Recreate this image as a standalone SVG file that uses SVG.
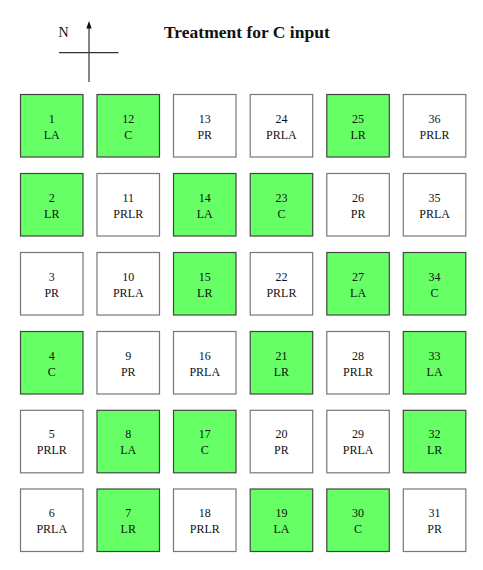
<svg xmlns="http://www.w3.org/2000/svg" width="483" height="570" viewBox="0 0 483 570">
<style>
.c rect{stroke-width:1.2}
.g rect{fill:#66ff66;stroke:#444}
.w rect{fill:#fff;stroke:#777}
text{font-family:"Liberation Serif","Times New Roman",serif;font-size:12px;fill:#111;text-anchor:middle}
.t{font-size:17.5px;font-weight:bold;text-anchor:start}
.n{font-size:14px;text-anchor:start}
.l{stroke:#333;stroke-width:1.2;fill:none}
</style>
<g id="connectors">
<line class="l" x1="89" y1="82" x2="89" y2="27"/>
<path d="M89,21 L86.3,28.5 L91.7,28.5 Z" fill="#111"/>
<line class="l" x1="59" y1="52.7" x2="118.5" y2="52.7"/>
</g>
<text class="n" x="58.5" y="37">N</text>
<text class="t" x="164" y="37.5">Treatment for C input</text>
<g id="p1" class="c g" transform="translate(20.5,94.5)"><rect width="62.5" height="62.5"/><text x="31.25" y="28">1</text><text x="31.25" y="44">LA</text></g>
<g id="p12" class="c g" transform="translate(97,94.5)"><rect width="62.5" height="62.5"/><text x="31.25" y="28">12</text><text x="31.25" y="44">C</text></g>
<g id="p13" class="c w" transform="translate(173.5,94.5)"><rect width="62.5" height="62.5"/><text x="31.25" y="28">13</text><text x="31.25" y="44">PR</text></g>
<g id="p24" class="c w" transform="translate(250.2,94.5)"><rect width="62.5" height="62.5"/><text x="31.25" y="28">24</text><text x="31.25" y="44">PRLA</text></g>
<g id="p25" class="c g" transform="translate(326.8,94.5)"><rect width="62.5" height="62.5"/><text x="31.25" y="28">25</text><text x="31.25" y="44">LR</text></g>
<g id="p36" class="c w" transform="translate(403.3,94.5)"><rect width="62.5" height="62.5"/><text x="31.25" y="28">36</text><text x="31.25" y="44">PRLR</text></g>

<g id="p2" class="c g" transform="translate(20.5,173.5)"><rect width="62.5" height="62.5"/><text x="31.25" y="28">2</text><text x="31.25" y="44">LR</text></g>
<g id="p11" class="c w" transform="translate(97,173.5)"><rect width="62.5" height="62.5"/><text x="31.25" y="28">11</text><text x="31.25" y="44">PRLR</text></g>
<g id="p14" class="c g" transform="translate(173.5,173.5)"><rect width="62.5" height="62.5"/><text x="31.25" y="28">14</text><text x="31.25" y="44">LA</text></g>
<g id="p23" class="c g" transform="translate(250.2,173.5)"><rect width="62.5" height="62.5"/><text x="31.25" y="28">23</text><text x="31.25" y="44">C</text></g>
<g id="p26" class="c w" transform="translate(326.8,173.5)"><rect width="62.5" height="62.5"/><text x="31.25" y="28">26</text><text x="31.25" y="44">PR</text></g>
<g id="p35" class="c w" transform="translate(403.3,173.5)"><rect width="62.5" height="62.5"/><text x="31.25" y="28">35</text><text x="31.25" y="44">PRLA</text></g>

<g id="p3" class="c w" transform="translate(20.5,252.5)"><rect width="62.5" height="62.5"/><text x="31.25" y="28">3</text><text x="31.25" y="44">PR</text></g>
<g id="p10" class="c w" transform="translate(97,252.5)"><rect width="62.5" height="62.5"/><text x="31.25" y="28">10</text><text x="31.25" y="44">PRLA</text></g>
<g id="p15" class="c g" transform="translate(173.5,252.5)"><rect width="62.5" height="62.5"/><text x="31.25" y="28">15</text><text x="31.25" y="44">LR</text></g>
<g id="p22" class="c w" transform="translate(250.2,252.5)"><rect width="62.5" height="62.5"/><text x="31.25" y="28">22</text><text x="31.25" y="44">PRLR</text></g>
<g id="p27" class="c g" transform="translate(326.8,252.5)"><rect width="62.5" height="62.5"/><text x="31.25" y="28">27</text><text x="31.25" y="44">LA</text></g>
<g id="p34" class="c g" transform="translate(403.3,252.5)"><rect width="62.5" height="62.5"/><text x="31.25" y="28">34</text><text x="31.25" y="44">C</text></g>

<g id="p4" class="c g" transform="translate(20.5,331.5)"><rect width="62.5" height="62.5"/><text x="31.25" y="28">4</text><text x="31.25" y="44">C</text></g>
<g id="p9" class="c w" transform="translate(97,331.5)"><rect width="62.5" height="62.5"/><text x="31.25" y="28">9</text><text x="31.25" y="44">PR</text></g>
<g id="p16" class="c w" transform="translate(173.5,331.5)"><rect width="62.5" height="62.5"/><text x="31.25" y="28">16</text><text x="31.25" y="44">PRLA</text></g>
<g id="p21" class="c g" transform="translate(250.2,331.5)"><rect width="62.5" height="62.5"/><text x="31.25" y="28">21</text><text x="31.25" y="44">LR</text></g>
<g id="p28" class="c w" transform="translate(326.8,331.5)"><rect width="62.5" height="62.5"/><text x="31.25" y="28">28</text><text x="31.25" y="44">PRLR</text></g>
<g id="p33" class="c g" transform="translate(403.3,331.5)"><rect width="62.5" height="62.5"/><text x="31.25" y="28">33</text><text x="31.25" y="44">LA</text></g>

<g id="p5" class="c w" transform="translate(20.5,410.3)"><rect width="62.5" height="62.5"/><text x="31.25" y="28">5</text><text x="31.25" y="44">PRLR</text></g>
<g id="p8" class="c g" transform="translate(97,410.3)"><rect width="62.5" height="62.5"/><text x="31.25" y="28">8</text><text x="31.25" y="44">LA</text></g>
<g id="p17" class="c g" transform="translate(173.5,410.3)"><rect width="62.5" height="62.5"/><text x="31.25" y="28">17</text><text x="31.25" y="44">C</text></g>
<g id="p20" class="c w" transform="translate(250.2,410.3)"><rect width="62.5" height="62.5"/><text x="31.25" y="28">20</text><text x="31.25" y="44">PR</text></g>
<g id="p29" class="c w" transform="translate(326.8,410.3)"><rect width="62.5" height="62.5"/><text x="31.25" y="28">29</text><text x="31.25" y="44">PRLA</text></g>
<g id="p32" class="c g" transform="translate(403.3,410.3)"><rect width="62.5" height="62.5"/><text x="31.25" y="28">32</text><text x="31.25" y="44">LR</text></g>

<g id="p6" class="c w" transform="translate(20.5,489)"><rect width="62.5" height="62.5"/><text x="31.25" y="28">6</text><text x="31.25" y="44">PRLA</text></g>
<g id="p7" class="c g" transform="translate(97,489)"><rect width="62.5" height="62.5"/><text x="31.25" y="28">7</text><text x="31.25" y="44">LR</text></g>
<g id="p18" class="c w" transform="translate(173.5,489)"><rect width="62.5" height="62.5"/><text x="31.25" y="28">18</text><text x="31.25" y="44">PRLR</text></g>
<g id="p19" class="c g" transform="translate(250.2,489)"><rect width="62.5" height="62.5"/><text x="31.25" y="28">19</text><text x="31.25" y="44">LA</text></g>
<g id="p30" class="c g" transform="translate(326.8,489)"><rect width="62.5" height="62.5"/><text x="31.25" y="28">30</text><text x="31.25" y="44">C</text></g>
<g id="p31" class="c w" transform="translate(403.3,489)"><rect width="62.5" height="62.5"/><text x="31.25" y="28">31</text><text x="31.25" y="44">PR</text></g>
</svg>
